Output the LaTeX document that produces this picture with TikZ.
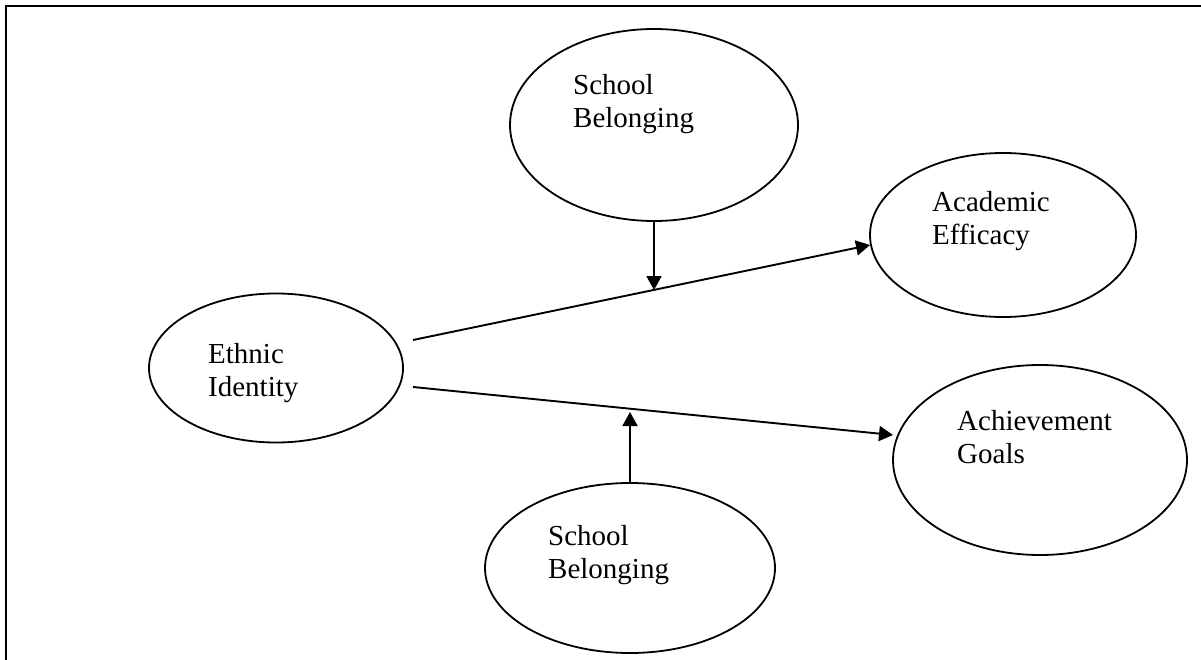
\documentclass[tikz,border=0pt]{standalone}
\usepackage{fontspec}
\setmainfont{Liberation Serif}
\usetikzlibrary{arrows.meta,shapes.geometric}
\begin{document}
\begin{tikzpicture}[x=1pt,y=-1pt,
  oval/.style={draw, ellipse, line width=1.8pt, inner sep=0pt},
  lbl/.style={anchor=base west, inner sep=0pt, text width=200pt, align=left,
    font=\fontsize{29}{33}\selectfont},
  conn/.style={line width=1.9pt, -{Triangle[length=14pt,width=15pt]}},
  frame/.style={line width=2pt}]
\useasboundingbox (0,0) rectangle (1201,660);
\draw[frame] (6,660) -- (6,6) -- (1201,6);
% ellipses
\node[oval, minimum width=288pt, minimum height=192pt] (sb1) at (654,125) {};
\node[oval, minimum width=254pt, minimum height=149pt] (eth) at (276,368) {};
\node[oval, minimum width=266pt, minimum height=164pt] (acad) at (1003,235) {};
\node[oval, minimum width=294pt, minimum height=190pt] (ach) at (1040,460) {};
\node[oval, minimum width=290pt, minimum height=170pt] (sb2) at (630,568) {};
% texts
\node[lbl] (tsb1) at (573,95) {School\\Belonging};
\node[lbl] (teth) at (208,363) {Ethnic\\Identity};
\node[lbl] (tacad) at (932,212) {Academic\\Efficacy};
\node[lbl] (tach) at (957,430) {Achievement\\Goals};
\node[lbl] (tsb2) at (548,545) {School\\Belonging};
% connectors
\coordinate (s1) at (413,340);
\coordinate (s2) at (413,387);
\coordinate (t1) at (870,245);
\coordinate (t2) at (893,435);
\draw[conn] (s1) -- (t1);
\draw[conn] (s2) -- (t2);
\coordinate (m1) at (654,290);
\coordinate (m2) at (630,412);
\draw[conn] (sb1.south) -- (m1);
\draw[conn] (sb2.north) -- (m2);
\end{tikzpicture}
\end{document}
